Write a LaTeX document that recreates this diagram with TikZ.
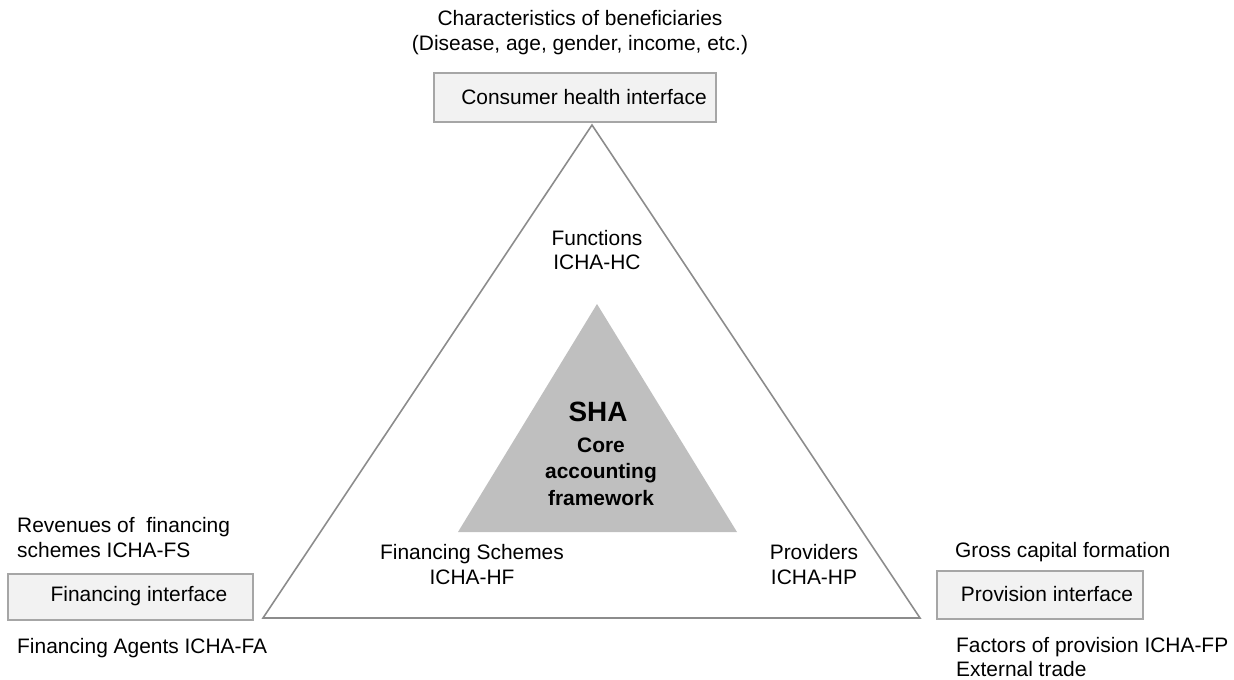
\documentclass[tikz,border=0pt]{standalone}
\usepackage{fontspec}
\setmainfont{Liberation Sans}
\definecolor{boxfill}{HTML}{F2F2F2}
\definecolor{boxline}{HTML}{A6A6A6}
\definecolor{triline}{HTML}{8C8C8C}
\definecolor{corefill}{HTML}{BFBFBF}
\tikzset{
  ibox/.style={draw=boxline, fill=boxfill, line width=1.2bp, inner sep=0},
  lbl/.style={font=\fontsize{21}{25}\selectfont, inner sep=0, align=center, text=black},
  lbll/.style={lbl, align=left, anchor=west},
  corelbl/.style={font=\bfseries\fontsize{21}{26.5}\selectfont, inner sep=0, align=center},
}
\begin{document}
\begin{tikzpicture}[x=1bp,y=-1bp]
\useasboundingbox (0,0) rectangle (1234,680);
% interface boxes
\node[ibox, minimum width=282bp, minimum height=49bp] (consumer) at (575,97.5) {};
\node[ibox, minimum width=245bp, minimum height=46bp] (financing) at (130.5,597) {};
\node[ibox, minimum width=206bp, minimum height=48bp] (provision) at (1040,595) {};
% outer triangle
\coordinate (top) at (592,125);
\coordinate (bl) at (263,618);
\coordinate (br) at (920,618);
\draw[triline, line width=1.6bp, line join=miter] (top) -- (br) -- (bl) -- cycle;
% inner triangle
\coordinate (itop) at (597,304);
\coordinate (ibl) at (458,532);
\coordinate (ibr) at (737,532);
\fill[corefill] (itop) -- (ibr) -- (ibl) -- cycle;
% texts
\node[lbl] (chartext) at (580,32.5) {Characteristics of beneficiaries\\(Disease, age, gender, income, etc.)};
\node[lbl] (constext) at (584,97) {Consumer health interface};
\node[lbl] (functions) at (597,250) {Functions\\ICHA-HC};
\node[font=\bfseries\fontsize{28}{30}\selectfont, inner sep=0] (sha) at (598,412) {SHA};
\node[corelbl] (core) at (601,471.5) {Core\\accounting\\framework};
\node[lbl] (schemes) at (472,564.5) {Financing Schemes\\ICHA-HF};
\node[lbl] (providers) at (814,564.5) {Providers\\ICHA-HP};
\node[lbll] (revenues) at (17,537.5) {Revenues of~~financing\\schemes ICHA-FS};
\node[lbl] (fintext) at (139,596) {Financing interface};
\node[lbll] (agents) at (17,648) {Financing Agents ICHA-FA};
\node[lbll] (gross) at (955,552) {Gross capital formation};
\node[lbl] (provtext) at (1047,594) {Provision interface};
\node[lbll] (factors) at (956,657) {Factors of provision ICHA-FP\\External trade};
\end{tikzpicture}
\end{document}
